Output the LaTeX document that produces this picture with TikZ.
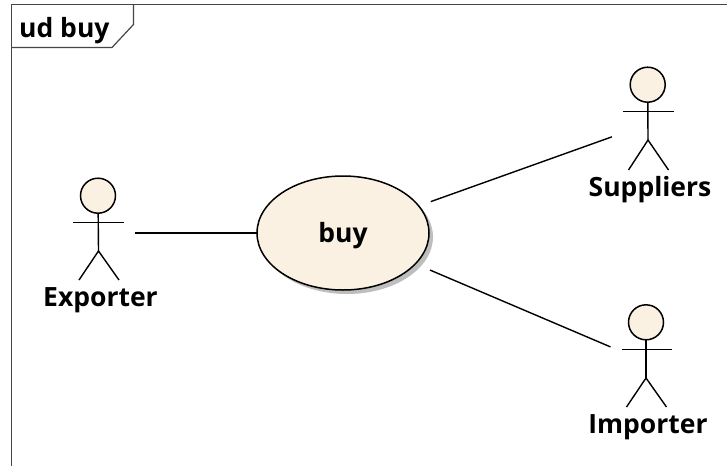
\documentclass[tikz,border=0pt]{standalone}
\usepackage{fontspec}
\setmainfont{Open Sans}
\usetikzlibrary{shapes.geometric}
\definecolor{fillc}{RGB}{250,241,227}
\definecolor{shadowc}{RGB}{190,190,190}
\definecolor{framec}{RGB}{70,70,70}
\tikzset{
  usecase/.style={ellipse,draw=black,fill=fillc,line width=1.5pt,minimum width=172pt,minimum height=114pt,inner sep=0pt,outer sep=0pt,font=\fontsize{26.5}{30}\selectfont\bfseries},
  actorbox/.style={rectangle,minimum height=100pt,inner sep=0pt,outer sep=0pt},
  actorlabel/.style={inner sep=0pt,font=\fontsize{26.5}{30}\selectfont\bfseries},
  framelabel/.style={inner sep=0pt,anchor=base west,font=\fontsize{26.5}{30}\selectfont\bfseries},
  framelines/.style={draw=framec,line width=1.2pt},
  limb/.style={draw=black,line width=1.4pt},
  head/.style={circle,draw=black,fill=fillc,line width=1.5pt,minimum size=35pt,inner sep=0pt,outer sep=0pt},
  assoc/.style={draw=black,line width=1.4pt}
}
\begin{document}
\begin{tikzpicture}[x=1pt,y=-1pt]
\useasboundingbox (0,0) rectangle (727,466);
\fill[white] (0,0) rectangle (727,466);
% frame
\coordinate (ftl) at (11.5,4.5);
\coordinate (ftr) at (727,4.5);
\coordinate (fbl) at (11.5,466);
\draw[framelines] (fbl) -- (ftl) -- (ftr);
\draw[framelines] (11.5,47.5) -- (112,47.5) -- (133.5,24.5) -- (133.5,4.5);
\node[framelabel] (title) at (19,37) {ud buy};
% use case
\fill[shadowc] (347,237) ellipse [x radius=86, y radius=57];
\node[usecase] (uc) at (343,233) {\raisebox{-3pt}[\height][\depth]{buy}};
% actors (invisible bounding nodes for connectors)
\node[actorbox,minimum width=72pt] (sup) at (648,124) {};
\node[actorbox,minimum width=71pt] (imp) at (646,362) {};
\node[actorbox,minimum width=74pt] (exp) at (98,233) {};
% Suppliers
\node[head] (suphead) at (647.7,84.7) {};
\coordinate (supcr) at (648,140);
\draw[limb] (suphead) -- (supcr);
\draw[limb] (623,111.7) -- (674,111.7);
\draw[limb] (628.5,170) -- (supcr) -- (668.5,170);
\node[actorlabel] (suplab) at (650,190) {Suppliers};
% Importer
\node[head] (imphead) at (646,322.3) {};
\coordinate (impcr) at (646,378);
\draw[limb] (imphead) -- (impcr);
\draw[limb] (621.5,349.7) -- (672,349.7);
\draw[limb] (626.5,407) -- (impcr) -- (666.5,407);
\node[actorlabel] (implab) at (648,427) {Importer};
% Exporter
\node[head] (exphead) at (98,195.7) {};
\coordinate (expcr) at (98.5,251);
\draw[limb] (exphead) -- (expcr);
\draw[limb] (73,222.3) -- (124,222.3);
\draw[limb] (79,280) -- (expcr) -- (119,280);
\node[actorlabel] (explab) at (100.5,300) {Exporter};
% connectors
\draw[assoc] (exp) -- (uc);
\draw[assoc,shorten <=12.8pt] (uc) -- (sup);
\draw[assoc,shorten <=15.9pt] (uc) -- (imp);
\end{tikzpicture}
\end{document}
